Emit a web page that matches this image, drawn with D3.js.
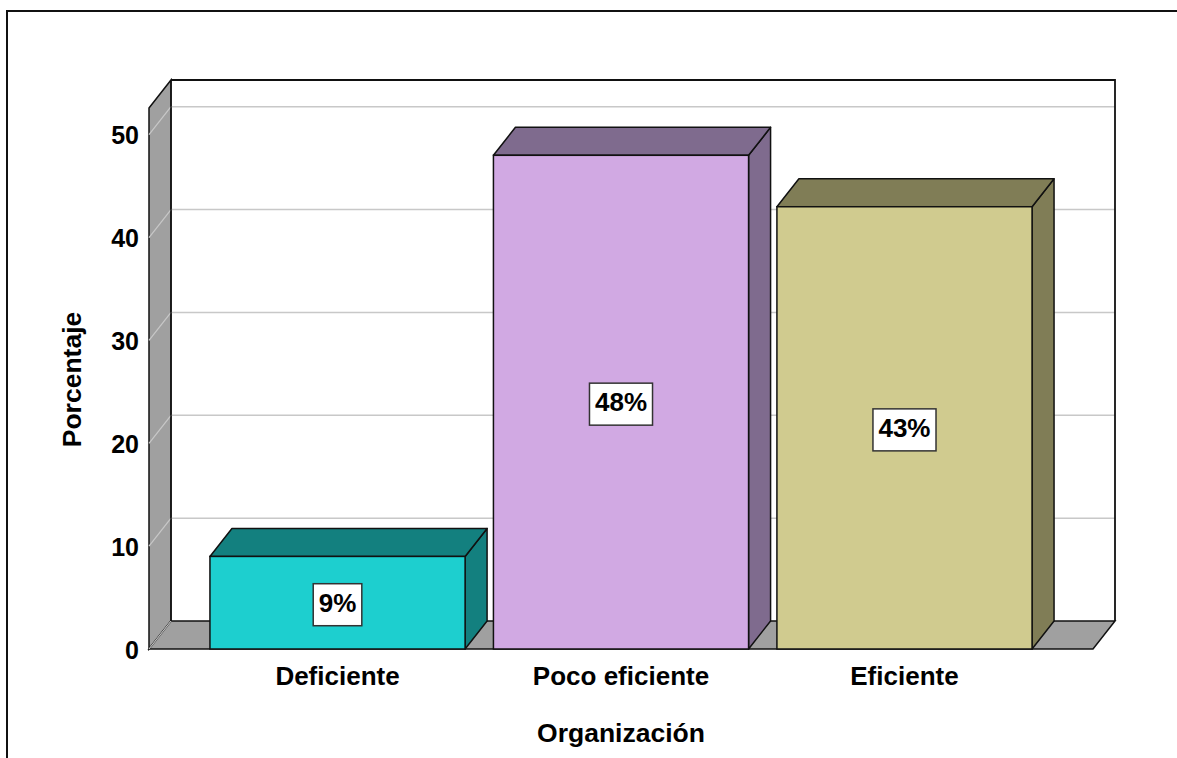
<!DOCTYPE html>
<html>
<head>
<meta charset="utf-8">
<script src="https://cdn.jsdelivr.net/npm/d3@7"></script>
<style>
  html, body { margin: 0; padding: 0; background: #fff; }
  svg { display: block; }
  text { font-family: "Liberation Sans", Arial, sans-serif; font-weight: bold; fill: #000; }
</style>
</head>
<body>
<svg id="chart" width="1177" height="758"></svg>
<script>
// Distribution of "Organización" ratings (percent)
const categories = ["Deficiente", "Poco eficiente", "Eficiente"];
const percentages = [9, 48, 43];
const yTicks = [0, 10, 20, 30, 40, 50];
const frontColors = ["#1dcfcf", "#d1a9e3", "#d0cb8f"];
const shadeColors = ["#13807f", "#7f6b8e", "#807d56"];

const svg = d3.select("#chart");
const W = 1177, H = 758;

// front plane of the 3D box and its depth offset
const x0 = 149, x1 = 1093, yBase = 649, yTopFront = 108;
const dx = 22, dy = -28;
const yMax = 52.6;

const x = d3.scaleBand().domain(categories).range([x0, x1])
  .paddingInner(0.1).paddingOuter(0.215);
const y = d3.scaleLinear().domain([0, yMax]).range([yBase, yTopFront]);

// outer frame
svg.append("rect").attr("x", 7).attr("y", 11).attr("width", W + 20).attr("height", H + 20)
  .attr("fill", "none").attr("stroke", "#111").attr("stroke-width", 2);

const g = svg.append("g");
const poly = pts => pts.map(p => p.join(",")).join(" ");

// back wall
g.append("rect").attr("x", x0 + dx).attr("y", y(yMax) + dy)
  .attr("width", x1 - x0).attr("height", y(0) - y(yMax))
  .attr("fill", "#fff");

// left wall
g.append("polygon")
  .attr("points", poly([[x0, y(yMax)], [x0 + dx, y(yMax) + dy], [x0 + dx, y(0) + dy], [x0, y(0)]]))
  .attr("fill", "#a0a0a0").attr("stroke", "#111").attr("stroke-width", 1.5);

// floor
g.append("polygon")
  .attr("points", poly([[x0, y(0)], [x0 + dx, y(0) + dy], [x1 + dx, y(0) + dy], [x1, y(0)]]))
  .attr("fill", "#a0a0a0").attr("stroke", "#111").attr("stroke-width", 1.5);

// gridlines on the back wall and the left wall
yTicks.filter(t => t > 0).forEach(t => {
  g.append("line").attr("x1", x0 + dx).attr("x2", x1 + dx)
    .attr("y1", y(t) + dy).attr("y2", y(t) + dy)
    .attr("stroke", "#c8c8c8").attr("stroke-width", 1.5);
  g.append("line").attr("x1", x0).attr("x2", x0 + dx)
    .attr("y1", y(t)).attr("y2", y(t) + dy)
    .attr("stroke", "#c8c8c8").attr("stroke-width", 1.2);
});
g.append("line").attr("x1", x0).attr("x2", x0 + dx)
  .attr("y1", y(0)).attr("y2", y(0) + dy)
  .attr("stroke", "#c8c8c8").attr("stroke-width", 1.2);

// back wall outline (top and right edges)
g.append("polyline")
  .attr("points", poly([[x0 + dx, y(yMax) + dy], [x1 + dx, y(yMax) + dy], [x1 + dx, y(0) + dy]]))
  .attr("fill", "none").attr("stroke", "#111").attr("stroke-width", 1.8);
g.append("line").attr("x1", x0 + dx).attr("x2", x0 + dx)
  .attr("y1", y(yMax) + dy).attr("y2", y(0) + dy)
  .attr("stroke", "#111").attr("stroke-width", 1.5);

// y-axis tick labels
svg.append("g").selectAll("text").data(yTicks).join("text")
  .attr("x", 139).attr("y", d => y(d) + 3)
  .attr("text-anchor", "end").attr("dominant-baseline", "middle")
  .style("font-size", "25px").text(d => d);

// 3D bars
const bars = g.selectAll("g.bar").data(categories).join("g").attr("class", "bar");
bars.each(function(c, i) {
  const b = d3.select(this);
  const bx = x(c), bw = x.bandwidth(), top = y(percentages[i]), bot = y(0);
  b.append("polygon")
    .attr("points", poly([[bx + bw, top], [bx + bw + dx, top + dy], [bx + bw + dx, bot + dy], [bx + bw, bot]]))
    .attr("fill", shadeColors[i]).attr("stroke", "#111").attr("stroke-width", 1.5).attr("stroke-linejoin", "round");
  b.append("polygon")
    .attr("points", poly([[bx, top], [bx + dx, top + dy], [bx + bw + dx, top + dy], [bx + bw, top]]))
    .attr("fill", shadeColors[i]).attr("stroke", "#111").attr("stroke-width", 1.5).attr("stroke-linejoin", "round");
  b.append("rect").attr("x", bx).attr("y", top).attr("width", bw).attr("height", bot - top)
    .attr("fill", frontColors[i]).attr("stroke", "#111").attr("stroke-width", 1.5);

  // value label in a boxed tag at the middle of the front face
  const cx = bx + bw / 2, cy = (top + bot) / 2 + 2;
  const lbl = b.append("g");
  const t = lbl.append("text").attr("x", cx).attr("y", cy)
    .attr("text-anchor", "middle").attr("dominant-baseline", "middle")
    .style("font-size", "26px").text(percentages[i] + "%");
  const bb = t.node().getBBox();
  lbl.insert("rect", "text")
    .attr("x", bb.x - 5.5).attr("y", cy - 21).attr("width", bb.width + 11).attr("height", 42)
    .attr("fill", "#fff").attr("stroke", "#333").attr("stroke-width", 1.5);
});

// category labels
svg.append("g").selectAll("text").data(categories).join("text")
  .attr("x", d => x(d) + x.bandwidth() / 2).attr("y", 685)
  .attr("text-anchor", "middle").style("font-size", "26px").text(d => d);

// axis titles
svg.append("text").attr("x", (x0 + x1) / 2).attr("y", 742)
  .attr("text-anchor", "middle").style("font-size", "26.5px").text("Organización");
svg.append("text")
  .attr("transform", `translate(81, ${(y(0) + y(yMax)) / 2 + 1}) rotate(-90)`)
  .attr("text-anchor", "middle").style("font-size", "26.5px").text("Porcentaje");
</script>
</body>
</html>
